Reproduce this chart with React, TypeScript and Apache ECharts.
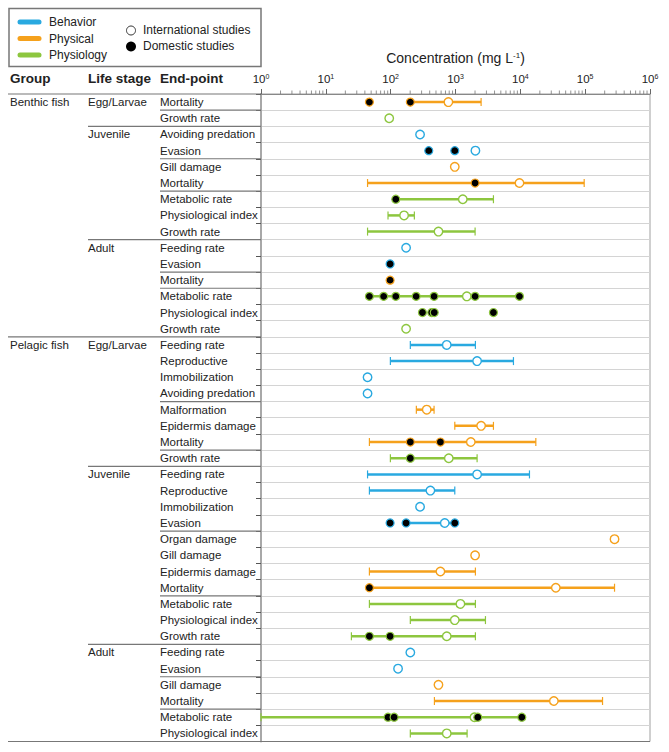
import React, { useEffect, useRef } from "react";
import * as echarts from "echarts";

const FONT = "'Liberation Sans', Arial, sans-serif";

const groupNames = ["Benthic fish", "Pelagic fish"];
const lifeStages = ["Egg/Larvae", "Juvenile", "Adult"];
const categoryNames = ["Behavior", "Physical", "Physiology"];
const categoryColors = ["#29a9e0", "#f5a11c", "#8dc63f"];
const studyNames = ["International studies", "Domestic studies"];

const endPoints = [
  "Mortality", "Growth rate",
  "Avoiding predation", "Evasion", "Gill damage", "Mortality", "Metabolic rate", "Physiological index", "Growth rate",
  "Feeding rate", "Evasion", "Mortality", "Metabolic rate", "Physiological index", "Growth rate",
  "Feeding rate", "Reproductive", "Immobilization", "Avoiding predation", "Malformation", "Epidermis damage", "Mortality", "Growth rate",
  "Feeding rate", "Reproductive", "Immobilization", "Evasion", "Organ damage", "Gill damage", "Epidermis damage", "Mortality", "Metabolic rate", "Physiological index", "Growth rate",
  "Feeding rate", "Evasion", "Gill damage", "Mortality", "Metabolic rate", "Physiological index",
];

const rowGroup = [
  0, 0,
  0, 0, 0, 0, 0, 0, 0,
  0, 0, 0, 0, 0, 0,
  1, 1, 1, 1, 1, 1, 1, 1,
  1, 1, 1, 1, 1, 1, 1, 1, 1, 1, 1,
  1, 1, 1, 1, 1, 1,
];

const rowStage = [
  0, 0,
  1, 1, 1, 1, 1, 1, 1,
  2, 2, 2, 2, 2, 2,
  0, 0, 0, 0, 0, 0, 0, 0,
  1, 1, 1, 1, 1, 1, 1, 1, 1, 1, 1,
  2, 2, 2, 2, 2, 2,
];

const rowCategory = [
  1, 2,
  0, 0, 1, 1, 2, 2, 2,
  0, 0, 1, 2, 2, 2,
  0, 0, 0, 0, 1, 1, 1, 2,
  0, 0, 0, 0, 1, 1, 1, 1, 2, 2, 2,
  0, 0, 1, 1, 2, 2,
];

const rangeLow: (number | null)[] = [
  201, null,
  null, null, null, 44, 120, 91, 44,
  null, null, null, 47, null, null,
  201, 99, null, null, 249, 975, 47, 99,
  44, 47, null, 173, null, null, 47, 47, 47, 201, 24.8,
  null, null, null, 473, 1, 201,
];

const rangeHigh: (number | null)[] = [
  2483, null,
  null, null, null, 96600, 3847, 232, 2006,
  null, null, null, 9700, null, null,
  2028, 7830, null, null, 467, 3847, 17340, 2154,
  13830, 975, null, 975, null, null, 2028, 283700, 2028, 2897, 2028,
  null, null, null, 185300, 10540, 1510,
];

const internationalValues: number[][] = [
  [777], [95],
  [284], [2028], [975], [9700], [1295], [161], [546],
  [173], [], [], [1494], [], [173],
  [733], [2154], [44], [44], [360], [2483], [1722], [788],
  [2154], [410], [284], [683], [283700], [2006], [585], [35250], [1191], [975], [733],
  [201], [130], [546], [32900], [1960], [733],
];

const domesticValues: number[][] = [
  [47, 201], [],
  [], [387, 975], [], [2006], [120], [], [],
  [], [98], [98], [47, 78, 120, 247, 467, 2006, 9700], [309, 430, 470, 3847], [],
  [], [], [], [], [], [], [201, 585], [201],
  [], [], [], [98, 173, 975], [], [], [], [47], [], [], [47, 98],
  [], [], [], [], [91, 113, 2208, 10540], [],
];

const decadeTicks = [1, 10, 100, 1000, 10000, 100000];
const minorMultipliers = [2, 3, 4, 5, 6, 7, 8, 9];

const COL_GROUP = 8;
const COL_STAGE = 88;
const COL_END = 160;

export default function App() {
  const ref = useRef<HTMLDivElement>(null);

  useEffect(() => {
    document.body.style.margin = "0";
    const chart = echarts.init(ref.current!, null, { renderer: "svg" });

    const scatterSeries: any[] = [];
    [0, 1].forEach((type) => {
      categoryColors.forEach((color, c) => {
        const data: number[][] = [];
        endPoints.forEach((_, i) => {
          if (rowCategory[i] !== c) return;
          const vals = type === 0 ? internationalValues[i] : domesticValues[i];
          vals.forEach((v) => data.push([v, i]));
        });
        scatterSeries.push({
          type: "scatter",
          name: categoryNames[c] + " " + studyNames[type],
          data,
          symbol: "circle",
          symbolSize: type === 0 ? 8.5 : 8,
          z: 4 + type,
          itemStyle: {
            color: type === 0 ? "#ffffff" : "#000000",
            borderColor: color,
            borderWidth: type === 0 ? 1.4 : 1.2,
            opacity: 1,
          },
          emphasis: { disabled: true },
        });
      });
    });

    const rangeData: number[][] = [];
    endPoints.forEach((_, i) => {
      const lo = rangeLow[i];
      const hi = rangeHigh[i];
      if (lo != null && hi != null) rangeData.push([i, lo, hi]);
    });

    const minorData: number[][] = [];
    decadeTicks.forEach((d) => minorMultipliers.forEach((m) => minorData.push([m * d, 0])));

    const option: any = {
      animation: false,
      textStyle: { fontFamily: FONT },
      grid: {
        left: 261,
        right: 19,
        top: 94,
        bottom: 10.5,
        show: true,
        borderColor: "#a0a0a0",
        borderWidth: 1,
        backgroundColor: "transparent",
      },
      xAxis: {
        type: "log",
        logBase: 10,
        min: 1,
        max: 1000000,
        position: "top",
        name: "Concentration (mg L{sup|-1})",
        nameLocation: "middle",
        nameGap: 29,
        nameTextStyle: {
          fontSize: 14,
          color: "#222",
          fontFamily: FONT,
          rich: { sup: { fontSize: 8, verticalAlign: "top", fontFamily: FONT, color: "#222" } },
        },
        axisLine: { show: true, lineStyle: { color: "#888", width: 1 } },
        axisTick: { show: true, length: 5, lineStyle: { color: "#666" } },
        splitLine: { show: false },
        minorTick: { show: false },
        axisLabel: {
          margin: 9,
          color: "#222",
          fontSize: 11.5,
          fontFamily: FONT,
          formatter: (v: number) => "10{sup|" + Math.round(Math.log10(v)) + "}",
          rich: { sup: { fontSize: 7, verticalAlign: "top", fontFamily: FONT, color: "#222" } },
        },
      },
      yAxis: {
        type: "category",
        data: endPoints,
        inverse: true,
        boundaryGap: true,
        axisLine: { show: true, lineStyle: { color: "#a8a8a8", width: 2 } },
        axisTick: { show: true, length: 5, lineStyle: { color: "#555" } },
        splitLine: { show: true, lineStyle: { color: "#d4d4d4", width: 1 } },
        axisLabel: {
          align: "left",
          margin: 101,
          color: "#222",
          fontSize: 11.5,
          fontFamily: FONT,
        },
      },
      series: [
        {
          type: "custom",
          name: "table",
          silent: true,
          clip: false,
          z: 1,
          data: endPoints.map((_, i) => [1, i]),
          encode: { x: 0, y: 1 },
          renderItem: (params: any, api: any) => {
            const i = params.dataIndex;
            const cs = params.coordSys;
            const c0 = api.coord([1, i]);
            const c1 = api.coord([1, i + 1 < endPoints.length ? i + 1 : i - 1]);
            const h = Math.abs(c1[1] - c0[1]);
            const cy = c0[1];
            const gx = cs.x;
            const children: any[] = [];
            const textStyle = (text: string, x: number, y: number, bold = false, size = 11.5) => ({
              type: "text",
              x,
              y,
              style: {
                text,
                fill: "#222",
                fontSize: size,
                fontFamily: FONT,
                fontWeight: bold ? "bold" : "normal",
                align: "left",
                verticalAlign: "middle",
              },
            });
            if (i === 0) {
              const ty = cy - h / 2;
              children.push({
                type: "line",
                shape: { x1: COL_GROUP, y1: ty, x2: gx, y2: ty },
                style: { stroke: "#777", lineWidth: 1.2 },
              });
              children.push(textStyle("Group", 10, cs.y - 15.5, true, 13.5));
              children.push(textStyle("Life stage", COL_STAGE, cs.y - 15.5, true, 13.5));
              children.push(textStyle("End-point", COL_END, cs.y - 15.5, true, 13.5));
            }
            if (i === 0 || rowGroup[i] !== rowGroup[i - 1]) {
              children.push(textStyle(groupNames[rowGroup[i]], 10, cy));
            }
            if (i === 0 || rowStage[i] !== rowStage[i - 1] || rowGroup[i] !== rowGroup[i - 1]) {
              children.push(textStyle(lifeStages[rowStage[i]], COL_STAGE, cy));
            }
            const by = cy + h / 2;
            let startX: number | null = null;
            let endX = gx;
            if (i === endPoints.length - 1) {
              startX = COL_GROUP;
              endX = gx + cs.width;
            } else if (rowGroup[i + 1] !== rowGroup[i]) startX = COL_GROUP;
            else if (rowStage[i + 1] !== rowStage[i]) startX = COL_STAGE;
            else if (rowCategory[i + 1] !== rowCategory[i]) startX = COL_END;
            if (startX != null) {
              children.push({
                type: "line",
                shape: { x1: startX, y1: by, x2: endX, y2: by },
                style: { stroke: "#777", lineWidth: 1.2 },
              });
            }
            return { type: "group", children };
          },
        },
        {
          type: "custom",
          name: "minor ticks",
          silent: true,
          clip: false,
          z: 1,
          data: minorData,
          encode: { x: 0, y: 1 },
          renderItem: (params: any, api: any) => {
            const p = api.coord([api.value(0), 0]);
            const y0 = params.coordSys.y;
            return {
              type: "line",
              shape: { x1: p[0], y1: y0 - 3.5, x2: p[0], y2: y0 },
              style: { stroke: "#777", lineWidth: 0.8 },
            };
          },
        },
        {
          type: "custom",
          name: "ranges",
          silent: true,
          z: 3,
          data: rangeData,
          encode: { x: [1, 2], y: 0 },
          renderItem: (params: any, api: any) => {
            const row = api.value(0);
            const lo = api.value(1);
            const hi = api.value(2);
            const p1 = api.coord([lo, row]);
            const p2 = api.coord([hi, row]);
            const color = categoryColors[rowCategory[row]];
            const pts = internationalValues[row].concat(domesticValues[row]);
            const children: any[] = [
              {
                type: "line",
                shape: { x1: p1[0], y1: p1[1], x2: p2[0], y2: p2[1] },
                style: { stroke: color, lineWidth: 2.5 },
              },
            ];
            if (pts.indexOf(lo) < 0) {
              children.push({
                type: "line",
                shape: { x1: p1[0], y1: p1[1] - 4, x2: p1[0], y2: p1[1] + 4 },
                style: { stroke: color, lineWidth: 1.2 },
              });
            }
            if (pts.indexOf(hi) < 0) {
              children.push({
                type: "line",
                shape: { x1: p2[0], y1: p2[1] - 4, x2: p2[0], y2: p2[1] + 4 },
                style: { stroke: color, lineWidth: 1.2 },
              });
            }
            return { type: "group", children };
          },
        },
        ...scatterSeries,
      ],
      graphic: [
        {
          type: "rect",
          shape: { x: 9, y: 8.5, width: 252, height: 58 },
          style: { fill: "#fff", stroke: "#777", lineWidth: 1.5 },
        },
        ...categoryNames.flatMap((name, k) => [
          {
            type: "line",
            shape: { x1: 20, y1: 22 + k * 16.5, x2: 39, y2: 22 + k * 16.5 },
            style: { stroke: categoryColors[k], lineWidth: 5, lineCap: "round" },
          },
          {
            type: "text",
            x: 49,
            y: 22 + k * 16.5,
            style: {
              text: name,
              fill: "#222",
              fontSize: 12,
              fontFamily: FONT,
              align: "left",
              verticalAlign: "middle",
            },
          },
        ]),
        {
          type: "circle",
          shape: { cx: 131, cy: 30.5, r: 4.5 },
          style: { fill: "#fff", stroke: "#333", lineWidth: 1 },
        },
        {
          type: "circle",
          shape: { cx: 131, cy: 46.5, r: 5 },
          style: { fill: "#000" },
        },
        {
          type: "text",
          x: 143,
          y: 30,
          style: {
            text: studyNames[0],
            fill: "#222",
            fontSize: 12,
            fontFamily: FONT,
            align: "left",
            verticalAlign: "middle",
          },
        },
        {
          type: "text",
          x: 143,
          y: 46,
          style: {
            text: studyNames[1],
            fill: "#222",
            fontSize: 12,
            fontFamily: FONT,
            align: "left",
            verticalAlign: "middle",
          },
        },
      ],
    };

    chart.setOption(option);
    return () => {
      chart.dispose();
    };
  }, []);

  return <div ref={ref} style={{ width: 669, height: 752 }} />;
}
